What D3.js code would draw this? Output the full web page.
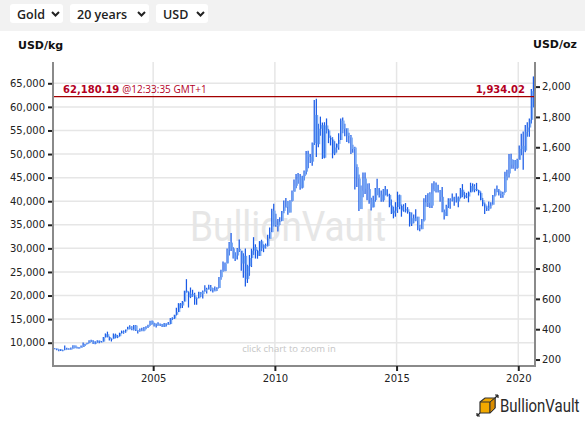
<!DOCTYPE html>
<html>
<head>
<meta charset="utf-8">
<script src="https://cdn.jsdelivr.net/npm/d3@7/dist/d3.min.js"></script>
<style>
  html, body { margin: 0; padding: 0; background: #fff; }
  svg { display: block; font-family: "DejaVu Sans", sans-serif; }
</style>
</head>
<body>
<div id="chart"></div>
<script>
// monthly gold bars, USD/oz, Dec 2000 .. Aug 2020
const firstMonth = new Date(2000, 11, 15);

const highs = [
  275,
  272,268,269,265,293,278,274,280,294,293,284,282,
  292,312,304,310,327,330,327,320,327,325,322,349,
  372,384,352,340,372,371,362,377,391,392,398,417,
  426,419,427,428,395,405,410,415,419,430,455,457,
  443,438,446,438,434,441,439,448,474,479,496,541,
  572,573,586,654,730,650,675,660,640,610,647,645,
  656,690,674,693,692,671,682,677,745,792,847,840,
  933,975,1034,940,908,935,991,918,901,932,825,889,
  931,1007,960,924,981,990,960,965,1023,1070,1195,1227,
  1161,1127,1138,1180,1249,1265,1246,1251,1315,1387,1424,1431,
  1423,1412,1447,1576,1577,1556,1632,1911,1920,1755,1802,1763,
  1765,1790,1721,1677,1666,1640,1625,1693,1790,1796,1755,1723,
  1695,1680,1617,1603,1488,1420,1347,1433,1434,1361,1362,1267,
  1280,1332,1392,1331,1315,1325,1345,1323,1293,1255,1208,1238,
  1307,1288,1223,1224,1232,1205,1174,1170,1157,1191,1142,1088,
  1126,1263,1285,1296,1304,1362,1375,1367,1352,1318,1338,1190,
  1220,1264,1264,1295,1273,1296,1275,1331,1357,1306,1299,1308,
  1366,1362,1356,1365,1318,1309,1266,1236,1214,1243,1237,1285,
  1326,1347,1324,1310,1306,1439,1452,1555,1557,1518,1516,1524,
  1611,1689,1704,1747,1765,1789,1984,2067
];

const lows = [
  267,
  262,255,256,255,263,265,264,265,271,275,272,271,
  277,283,289,300,308,315,302,300,311,308,313,318,
  345,346,326,319,337,340,341,351,371,370,377,398,
  399,393,392,388,372,383,386,387,399,408,423,431,
  418,411,423,421,414,414,418,430,433,461,467,490,
  514,538,540,584,641,543,605,613,561,561,608,612,
  603,647,636,664,650,642,650,652,672,726,779,785,
  835,886,915,866,850,860,910,786,740,681,705,752,
  810,890,866,865,884,915,908,932,946,1003,1042,1078,
  1075,1045,1088,1113,1165,1201,1155,1175,1242,1314,1330,1360,
  1319,1328,1381,1420,1462,1496,1478,1615,1535,1600,1676,1523,
  1527,1691,1627,1612,1527,1548,1565,1583,1647,1692,1673,1635,
  1626,1555,1563,1321,1338,1180,1207,1270,1292,1251,1227,1183,
  1203,1240,1284,1268,1240,1240,1281,1276,1205,1160,1131,1142,
  1167,1191,1142,1175,1170,1162,1077,1080,1098,1112,1052,1046,
  1062,1110,1208,1206,1199,1200,1310,1301,1302,1241,1171,1123,
  1146,1200,1194,1242,1214,1236,1204,1262,1271,1260,1264,1237,
  1302,1307,1303,1310,1282,1250,1211,1160,1180,1182,1196,1221,
  1276,1303,1281,1266,1267,1300,1382,1400,1459,1459,1445,1458,
  1517,1548,1451,1567,1670,1670,1757,1863
];

const closes = [
  273,
  265,267,258,263,267,271,266,273,293,279,275,279,
  283,297,302,309,326,318,304,312,324,317,318,347,
  367,348,334,337,364,346,354,375,385,386,398,416,
  400,397,424,388,393,395,391,408,415,428,453,438,
  422,435,428,435,417,437,430,434,473,470,495,513,
  569,556,582,654,643,613,633,623,599,604,646,632,
  650,665,662,677,659,650,665,672,743,789,783,834,
  923,971,933,865,886,930,918,833,884,730,816,869,
  919,942,916,883,980,934,955,949,996,1040,1182,1087,
  1078,1109,1113,1180,1207,1244,1169,1246,1307,1346,1386,1405,
  1333,1409,1439,1556,1536,1505,1628,1813,1620,1722,1746,1531,
  1744,1711,1662,1651,1558,1598,1622,1648,1776,1719,1726,1675,
  1664,1588,1598,1469,1394,1192,1314,1394,1326,1324,1253,1204,
  1251,1326,1284,1288,1250,1322,1285,1286,1216,1164,1182,1206,
  1284,1213,1183,1182,1191,1172,1095,1132,1115,1142,1065,1060,
  1118,1238,1232,1294,1215,1322,1351,1309,1316,1273,1173,1146,
  1211,1253,1248,1267,1268,1242,1268,1320,1283,1271,1275,1302,
  1345,1318,1325,1316,1298,1252,1224,1202,1192,1215,1221,1282,
  1321,1316,1292,1284,1305,1409,1427,1520,1485,1512,1464,1517,
  1589,1609,1578,1702,1730,1781,1970,1934
];

const kgTicks = [10000,15000,20000,25000,30000,35000,40000,45000,50000,55000,60000,65000];
const ozTicks = [200,400,600,800,1000,1200,1400,1600,1800,2000];
const yearTicks = [2005, 2010, 2015, 2020];
const menus = ["Gold", "20 years", "USD"];
const lastKg = "62,180.19";
const lastTime = "@12:33:35 GMT+1";
const lastOz = "1,934.02";
const OZ_PER_KG = 32.1507;

const W = 585, H = 435;
const plot = { left: 53, right: 535, top: 62, bottom: 365 };

const bars = closes.map((c, i) => ({
  date: d3.timeMonth.offset(firstMonth, i),
  open: i === 0 ? 270 : closes[i - 1],
  high: highs[i],
  low: lows[i],
  close: c
}));

const svg = d3.select("#chart").append("svg")
  .attr("width", W).attr("height", H);

// --- top menu bar ---
svg.append("rect").attr("x", 0).attr("y", 0).attr("width", W).attr("height", 31).attr("fill", "#f2f2f2");
const menuBoxes = [{ x: 10, w: 53 }, { x: 70, w: 79 }, { x: 156, w: 52 }];
menus.forEach((m, i) => {
  const b = menuBoxes[i];
  const g = svg.append("g").attr("transform", `translate(${b.x},4)`);
  g.append("rect").attr("width", b.w).attr("height", 19).attr("rx", 3).attr("fill", "#fff");
  g.append("text").attr("x", 7).attr("y", 14.5)
    .attr("font-family", "'Open Sans', sans-serif").attr("font-size", 12.5)
    .attr("font-weight", 600).attr("fill", "#222").text(m);
  g.append("path").attr("d", `M${b.w - 11},8 l3.5,3.5 l3.5,-3.5`)
    .attr("fill", "none").attr("stroke", "#222").attr("stroke-width", 2);
});

// --- scales ---
const x = d3.scaleTime()
  .domain([new Date(2000, 10, 20), new Date(2020, 8, 8)])
  .range([plot.left, plot.right]);
const yKg = d3.scaleLinear().domain([5271, 69517]).range([plot.bottom, plot.top]);
const yOz = d3.scaleLinear().domain([5271 / OZ_PER_KG, 69517 / OZ_PER_KG]).range([plot.bottom, plot.top]);

// --- grid ---
const grid = svg.append("g").attr("stroke", "#e6e6e6").attr("stroke-width", 1.5);
grid.selectAll("line.h").data(kgTicks).join("line")
  .attr("x1", plot.left).attr("x2", plot.right)
  .attr("y1", d => yKg(d)).attr("y2", d => yKg(d));
grid.selectAll("line.v").data(yearTicks).join("line")
  .attr("x1", d => x(new Date(d, 0, 1))).attr("x2", d => x(new Date(d, 0, 1)))
  .attr("y1", plot.top).attr("y2", plot.bottom);

// watermark
svg.append("text").attr("x", 190).attr("y", 241)
  .attr("font-family", "Roboto, sans-serif").attr("font-size", 42)
  .attr("textLength", 196).attr("lengthAdjust", "spacingAndGlyphs")
  .attr("fill", "#e6e6e6").text("BullionVault");

svg.append("text").attr("x", 289).attr("y", 352).attr("text-anchor", "middle")
  .attr("font-family", "'Open Sans', sans-serif").attr("font-size", 9.5)
  .attr("fill", "#c6c6c6").text("click chart to zoom in");

// --- bars ---
const toKg = v => yKg(v * OZ_PER_KG);
const barG = svg.append("g");
barG.selectAll("line").data(bars).join("line")
  .attr("x1", d => x(d.date)).attr("x2", d => x(d.date))
  .attr("y1", d => toKg(Math.max(d.high, d.open)))
  .attr("y2", d => toKg(Math.min(d.low, d.open)))
  .attr("stroke", "#1a5be6").attr("stroke-width", 1.25);
barG.selectAll("rect").data(bars).join("rect")
  .attr("x", d => x(d.date) + 0.5)
  .attr("width", 1.4)
  .attr("y", d => toKg(Math.max(d.open, d.close)))
  .attr("height", d => Math.max(0.8, Math.abs(toKg(d.open) - toKg(d.close))))
  .attr("fill", "#78a9f4");

// --- current price line ---
const lineY = toKg(closes[closes.length - 1]);
svg.append("line").attr("x1", plot.left).attr("x2", plot.right)
  .attr("y1", lineY).attr("y2", lineY)
  .attr("stroke", "#a30000").attr("stroke-width", 1.2);
const lbl = svg.append("text").attr("x", 63).attr("y", lineY - 4)
  .attr("font-size", 10).attr("fill", "#b4001e");
lbl.append("tspan").attr("font-weight", "bold").text(lastKg);
lbl.append("tspan").attr("dx", 3).attr("font-family", "'Open Sans', sans-serif").text(lastTime);
svg.append("text").attr("x", 525).attr("y", lineY - 4).attr("text-anchor", "end")
  .attr("font-size", 10).attr("font-weight", "bold").attr("fill", "#b4001e").text(lastOz);

// --- axes ---
const axisLine = svg.append("g").attr("stroke", "#8a8a8a").attr("stroke-width", 2).attr("fill", "none");
axisLine.append("path").attr("d", `M${plot.left},${plot.top}V${plot.bottom + 1}H${plot.right}V${plot.top}`);

const leftAxis = svg.append("g").attr("transform", `translate(${plot.left - 1},0)`)
  .call(d3.axisLeft(yKg).tickValues(kgTicks).tickSize(4).tickPadding(3).tickFormat(d3.format(",")));
const rightAxis = svg.append("g").attr("transform", `translate(${plot.right + 1},0)`)
  .call(d3.axisRight(yOz).tickValues(ozTicks).tickSize(4).tickPadding(2).tickFormat(d3.format(",")));
const bottomAxis = svg.append("g").attr("transform", `translate(0,${plot.bottom + 1})`)
  .call(d3.axisBottom(x).tickValues(yearTicks.map(y => new Date(y, 0, 1)))
    .tickSize(5).tickPadding(4).tickFormat(d3.timeFormat("%Y")));

[leftAxis, rightAxis, bottomAxis].forEach(a => {
  a.select(".domain").remove();
  a.selectAll(".tick line").attr("stroke", "#222").attr("stroke-width", 2);
  a.selectAll(".tick text").attr("font-family", "'DejaVu Sans', sans-serif")
    .attr("font-size", 10).attr("fill", "#222");
});

svg.append("text").attr("x", 18).attr("y", 49).attr("font-size", 11).attr("font-weight", "bold")
  .attr("fill", "#111").text("USD/kg");
svg.append("text").attr("x", 533).attr("y", 48).attr("font-size", 11).attr("font-weight", "bold")
  .attr("fill", "#111").text("USD/oz");

// --- logo ---
const logo = svg.append("g").attr("transform", "translate(477,397)");
logo.append("path").attr("d", "M3,5 L8,1 L18,1 L18,11 L13,16 L3,16 Z")
  .attr("fill", "#f2a900").attr("stroke", "#333").attr("stroke-width", 1.2);
logo.append("path").attr("d", "M3,5 L13,5 L18,1 M13,5 L13,16")
  .attr("fill", "none").attr("stroke", "#333").attr("stroke-width", 1);
logo.append("path").attr("d", "M13,5 L18,1 L18,11 L13,16 Z").attr("fill", "#d98c00").attr("stroke", "#333").attr("stroke-width", 1);
logo.append("path").attr("d", "M0,19 L3,16 M0,19 L0,16 M0,19 L3,19 M21,-2 L18,1 M21,-2 L18,-2 M21,-2 L21,1")
  .attr("fill", "none").attr("stroke", "#222").attr("stroke-width", 1.2);
svg.append("text").attr("transform", "translate(500,412) scale(1,1.2)")
  .attr("font-family", "Roboto, sans-serif").attr("font-size", 15)
  .attr("fill", "#2a2a2a").text("BullionVault");
</script>
</body>
</html>
